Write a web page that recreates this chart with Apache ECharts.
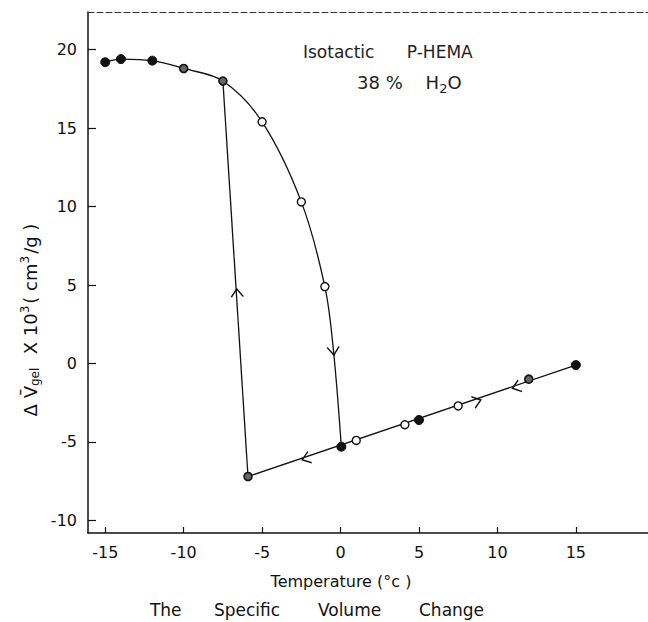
<!DOCTYPE html>
<html>
<head>
<meta charset="utf-8">
<script src="https://cdn.jsdelivr.net/npm/echarts@6/dist/echarts.min.js"></script>
<style>
html,body{margin:0;padding:0;background:#fff;}
#chart{width:648px;height:622px;}
</style>
</head>
<body>
<div id="chart"></div>
<script>
// ---- data ----
const xTicks = [-15, -10, -5, 0, 5, 10, 15];
const yTicks = [-10, -5, 0, 5, 10, 15, 20];

// heating curve (upper branch, melting down to 0 °C)
const curveX = [-15, -14, -12, -10, -7.5, -5, -2.5, -1, -0.45, 0.05];
const curveY = [19.2, 19.4, 19.3, 18.8, 18.0, 15.4, 10.3, 4.9, 0.8, -5.3];

// freezing jump (supercooled point up to the frozen branch)
const freezeX = [-5.9, -7.5];
const freezeY = [-7.2, 18.0];

// unfrozen straight line
const liquidX = [-5.9, 15];
const liquidY = [-7.2, -0.1];

// markers
const filledX = [-15, -14, -12, 0.05, 5, 15];
const filledY = [19.2, 19.4, 19.3, -5.3, -3.6, -0.1];
const openX = [-5, -2.5, -1, 1, 4.1, 7.5];
const openY = [15.4, 10.3, 4.9, -4.9, -3.9, -2.7];
const halfX = [-10, -7.5, -5.9, 12];
const halfY = [18.8, 18.0, -7.2, -1.0];

// direction arrows (position + heading in degrees)
const arrowX = [-0.45, -6.6, -2.2, 11.2, 8.7];
const arrowY = [0.8, 4.5, -6.05, -1.5, -2.4];
const arrowRot = [5.6, 183.6, -71.2, -71.2, 108.8];

const zip = (a, b) => a.map((v, i) => [v, b[i]]);

const chart = echarts.init(document.getElementById('chart'), null, {renderer: 'svg'});
const FONT = 'DejaVu Sans';
const INK = '#111';

chart.setOption({
  backgroundColor: '#fff',
  animation: false,
  textStyle: {fontFamily: FONT},
  title: {
    text: 'The      Specific       Volume       Change',
    left: 312, top: 596, textAlign: 'center',
    textStyle: {fontFamily: FONT, fontSize: 17, fontWeight: 'normal', color: INK}
  },
  grid: {left: 88, right: 0, top: 12, bottom: 89},
  xAxis: [{
    type: 'value', min: -16.1, max: 19.6, position: 'bottom',
    axisLine: {show: true, onZero: false, lineStyle: {color: INK, width: 1.5}},
    axisTick: {show: true, inside: true, length: 6, customValues: xTicks, lineStyle: {color: INK, width: 1.2}},
    axisLabel: {customValues: xTicks, margin: 11, fontSize: 16, color: INK, fontFamily: FONT},
    splitLine: {show: false}
  }, {
    type: 'value', position: 'top', min: -16.1, max: 19.6,
    axisLine: {show: true, onZero: false, lineStyle: {color: '#333', width: 1, type: [6, 3]}},
    axisTick: {show: false}, axisLabel: {show: false}, splitLine: {show: false}
  }],
  yAxis: {
    type: 'value', min: -10.8, max: 22.4, position: 'left',
    axisLine: {show: true, onZero: false, lineStyle: {color: INK, width: 1.5}},
    axisTick: {show: true, inside: true, length: 8, customValues: yTicks, lineStyle: {color: INK, width: 1.2}},
    axisLabel: {customValues: yTicks, margin: 11, fontSize: 16, color: INK, fontFamily: FONT},
    splitLine: {show: false}
  },
  graphic: [
    {
      type: 'text', x: 341, y: 581,
      style: {text: 'Temperature (°c )', font: '16px "DejaVu Sans"', fill: INK, align: 'center', verticalAlign: 'middle'}
    },
    {
      type: 'text', x: 303, y: 52,
      style: {text: 'Isotactic      P-HEMA', font: '17px "DejaVu Sans"', fill: '#222', align: 'left', verticalAlign: 'middle'}
    },
    {
      type: 'text', x: 357, y: 82,
      style: {
        text: '{a|38 %    H}{s|2}{a|O}',
        align: 'left', verticalAlign: 'middle',
        rich: {
          a: {fontFamily: FONT, fontSize: 18, fill: '#222', lineHeight: 22},
          s: {fontFamily: FONT, fontSize: 13, fill: '#222', padding: [12, 0, 0, 0], lineHeight: 22}
        }
      }
    },
    {
      type: 'text', x: 30, y: 320, rotation: Math.PI / 2,
      style: {
        text: '{a|Δ V̄}{s|gel}{a|  X 10}{p|3}{a|( cm}{p|3}{a|/g )}',
        align: 'center', verticalAlign: 'middle',
        rich: {
          a: {fontFamily: FONT, fontSize: 18, fill: INK, lineHeight: 24},
          s: {fontFamily: FONT, fontSize: 12, fill: INK, padding: [10, 2, 0, 0], lineHeight: 24},
          p: {fontFamily: FONT, fontSize: 12, fill: INK, padding: [0, 2, 11, 0], lineHeight: 24}
        }
      }
    }
  ],
  series: [
    {
      type: 'line', data: zip(curveX, curveY), smooth: 0.35, symbol: 'none',
      lineStyle: {color: INK, width: 1.3}, z: 2
    },
    {
      type: 'line', data: zip(freezeX, freezeY), symbol: 'none',
      lineStyle: {color: INK, width: 1.3}, z: 2
    },
    {
      type: 'line', data: zip(liquidX, liquidY), symbol: 'none',
      lineStyle: {color: INK, width: 1.3}, z: 2
    },
    {
      type: 'scatter', data: zip(filledX, filledY), symbol: 'circle', symbolSize: 9,
      itemStyle: {color: INK, borderColor: INK, borderWidth: 1, opacity: 1}, z: 5
    },
    {
      type: 'scatter', data: zip(openX, openY), symbol: 'circle', symbolSize: 8,
      itemStyle: {color: '#fff', borderColor: INK, borderWidth: 1.4, opacity: 1}, z: 5
    },
    {
      type: 'scatter', data: zip(halfX, halfY), symbol: 'circle', symbolSize: 8,
      itemStyle: {color: '#666', borderColor: INK, borderWidth: 1.6, opacity: 1}, z: 5
    },
    {
      type: 'scatter',
      data: arrowX.map((v, i) => ({value: [v, arrowY[i]], symbolRotate: arrowRot[i]})),
      symbol: 'path://M0,0L6,8L12,0', symbolSize: [12, 8], symbolKeepAspect: false,
      itemStyle: {color: 'none', borderColor: INK, borderWidth: 1.3, opacity: 1}, z: 6
    }
  ]
});
</script>
</body>
</html>
